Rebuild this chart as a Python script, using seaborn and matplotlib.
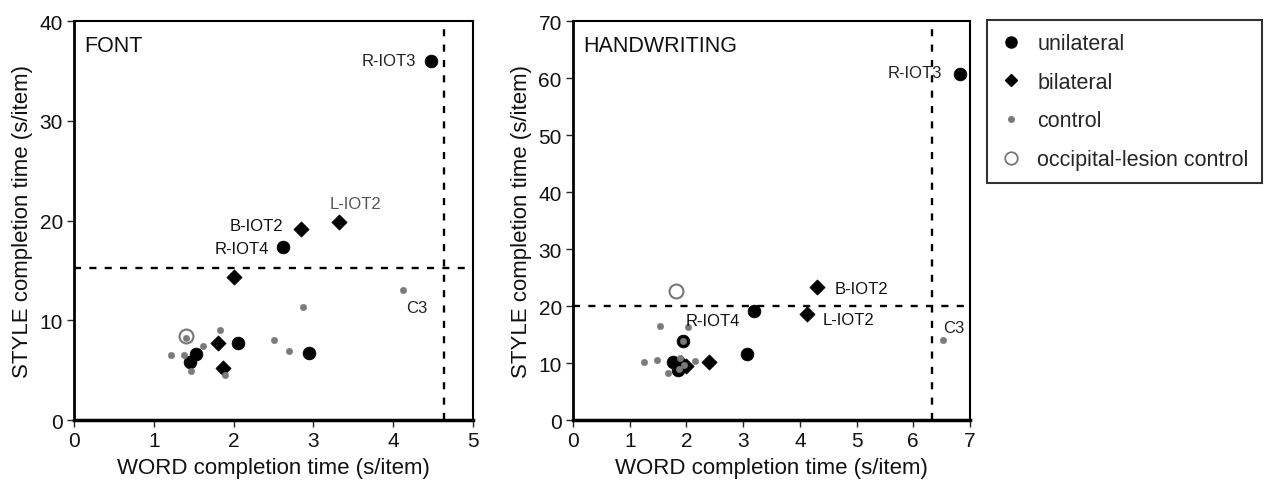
import pandas as pd
import matplotlib
matplotlib.use('Agg')
import matplotlib.pyplot as plt
from matplotlib.lines import Line2D
import seaborn as sns

# FONT panel (word time, style time)
font_uni_x = [4.47, 2.62, 2.06, 2.95, 1.53, 1.46]
font_uni_y = [36.0, 17.3, 7.7, 6.7, 6.6, 5.8]
font_bi_x = [2.84, 3.32, 2.01, 1.80, 1.87]
font_bi_y = [19.2, 19.9, 14.3, 7.7, 5.2]
font_ctl_x = [4.12, 2.87, 1.83, 2.51, 2.69, 1.62, 1.21, 1.38, 1.47, 1.89, 1.41]
font_ctl_y = [13.0, 11.3, 9.0, 8.0, 6.9, 7.45, 6.5, 6.5, 4.9, 4.5, 8.2]
font_occ_x = [1.40]
font_occ_y = [8.4]

# HANDWRITING panel
hand_uni_x = [6.82, 3.19, 1.94, 3.06, 1.76, 1.85]
hand_uni_y = [60.7, 19.2, 13.8, 11.5, 10.1, 8.8]
hand_bi_x = [4.31, 4.13, 2.40, 2.00, 1.90]
hand_bi_y = [23.3, 18.6, 10.2, 9.5, 10.0]
hand_ctl_x = [6.53, 1.54, 2.03, 1.25, 1.48, 1.68, 2.16, 1.88, 1.87, 1.94, 1.95]
hand_ctl_y = [14.0, 16.5, 16.4, 10.1, 10.6, 8.2, 10.4, 10.8, 8.9, 13.9, 9.6]
hand_occ_x = [1.81]
hand_occ_y = [22.7]

# cut-offs
font_cut = (4.64, 15.2)
hand_cut = (6.33, 20.0)

# labels: text, x, y, ha, colour
font_labels = [('R-IOT3', 4.28, 36.0, 'right', '#222222'),
               ('L-IOT2', 3.53, 21.7, 'center', '#555555'),
               ('B-IOT2', 2.62, 19.5, 'right', '#111111'),
               ('R-IOT4', 2.45, 17.2, 'right', '#111111'),
               ('C3', 4.30, 11.3, 'center', '#222222')]
hand_labels = [('R-IOT3', 6.50, 60.9, 'right', '#222222'),
               ('B-IOT2', 4.61, 23.1, 'left', '#111111'),
               ('L-IOT2', 4.40, 17.7, 'left', '#111111'),
               ('R-IOT4', 2.94, 17.4, 'right', '#111111'),
               ('C3', 6.52, 16.2, 'left', '#222222')]

groups = ['unilateral', 'bilateral', 'control', 'occipital-lesion control']
style = {
    'unilateral': dict(marker='o', s=85, color='black', edgecolor='black', linewidth=0.5),
    'bilateral': dict(marker='D', s=60, color='black', edgecolor='black', linewidth=0.5),
    'occipital-lesion control': dict(marker='o', s=100, facecolor='white', edgecolor='#777777', linewidth=1.5),
    'control': dict(marker='o', s=22, color='#7a7a7a', edgecolor='#7a7a7a', linewidth=0.3),
}


def make_df(ux, uy, bx, by, cx, cy, ox, oy):
    parts = []
    for g, xs, ys in [('unilateral', ux, uy), ('bilateral', bx, by),
                      ('control', cx, cy), ('occipital-lesion control', ox, oy)]:
        parts.append(pd.DataFrame({'word': xs, 'style': ys, 'group': g}))
    return pd.concat(parts, ignore_index=True)


sns.set_style('white')
plt.rcParams['font.family'] = ['Liberation Sans', 'DejaVu Sans']
plt.rcParams['axes.linewidth'] = 1.5

fig = plt.figure(figsize=(12.75, 4.81), dpi=100)
ax1 = fig.add_axes([0.058, 0.1247, 0.313, 0.8295])
ax2 = fig.add_axes([0.4494, 0.1247, 0.3114, 0.8295])

panels = [
    (ax1, make_df(font_uni_x, font_uni_y, font_bi_x, font_bi_y, font_ctl_x, font_ctl_y, font_occ_x, font_occ_y),
     font_cut, font_labels, 'FONT', (0, 5), (0, 40), range(0, 6), range(0, 41, 10)),
    (ax2, make_df(hand_uni_x, hand_uni_y, hand_bi_x, hand_bi_y, hand_ctl_x, hand_ctl_y, hand_occ_x, hand_occ_y),
     hand_cut, hand_labels, 'HANDWRITING', (0, 7), (0, 70), range(0, 8), range(0, 71, 10)),
]

for ax, df, cut, labels, title, xl, yl, xt, yt in panels:
    ax.axvline(cut[0], color='black', lw=1.7, dashes=(3, 3.5), zorder=1)
    ax.axhline(cut[1], color='black', lw=1.7, dashes=(3, 3.5), zorder=1)
    for g in ['unilateral', 'bilateral', 'occipital-lesion control', 'control']:
        sub = df[df['group'] == g]
        sns.scatterplot(data=sub, x='word', y='style', ax=ax, zorder=3, legend=False, **style[g])
    for txt, x, y, ha, c in labels:
        ax.text(x, y, txt, ha=ha, va='center', fontsize=12, color=c)
    ax.text(0.025, 0.965, title, transform=ax.transAxes, ha='left', va='top', fontsize=15.5, color='#111111')
    ax.set_xlim(*xl)
    ax.set_ylim(*yl)
    ax.set_xticks(list(xt))
    ax.set_yticks(list(yt))
    ax.tick_params(axis='both', direction='out', length=5, width=1, labelsize=15, pad=3,
                   bottom=True, left=True, labelcolor='#111111')
    ax.set_xlabel('WORD completion time (s/item)', fontsize=16, labelpad=5, color='#111111')
    ax.set_ylabel('STYLE completion time (s/item)', fontsize=16, labelpad=5, color='#111111')
    for sp in ax.spines.values():
        sp.set_color('black')
    ax.spines['left'].set_linewidth(2)
    ax.spines['bottom'].set_linewidth(2.5)

handles = [
    Line2D([], [], marker='o', ls='', color='black', markersize=8),
    Line2D([], [], marker='D', ls='', color='black', markersize=6.5),
    Line2D([], [], marker='o', ls='', color='#7a7a7a', markersize=4),
    Line2D([], [], marker='o', ls='', markerfacecolor='white', markeredgecolor='#777777',
           markeredgewidth=1.3, markersize=9),
]
leg = fig.legend(handles, groups, loc='upper left', bbox_to_anchor=(0.774, 0.956),
                 frameon=True, fancybox=False, fontsize=15.5, handletextpad=0.75,
                 labelspacing=0.82, borderpad=0.6, handlelength=1.0, borderaxespad=0)
leg.get_frame().set_edgecolor('black')
leg.get_frame().set_linewidth(1.5)

fig.savefig('out.png', dpi=100)
